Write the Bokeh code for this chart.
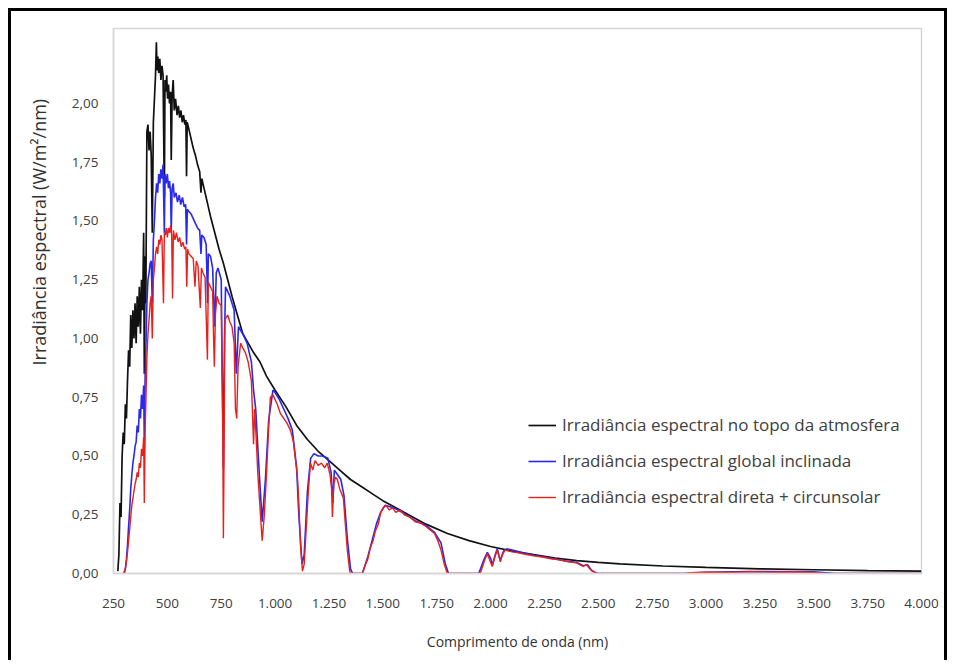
from bokeh.plotting import figure
from bokeh.models import ColumnDataSource, Legend, LegendItem, FixedTicker, Range1d, Title
from bokeh.embed import file_html
from bokeh.resources import INLINE

# ---------------- data ----------------
wl_top = [270, 275, 280, 285, 290, 295, 300, 305, 310, 315, 320, 325, 330, 335, 340, 345, 350, 355, 360, 365,
          370, 375, 380, 385, 390, 393, 397, 400, 405, 410, 415, 420, 425, 430, 435, 440, 445, 449, 452, 456,
          460, 465, 470, 475, 480, 486, 489, 493, 497, 501, 505, 510, 515, 518, 522, 527, 532, 538, 545, 551,
          557, 563, 569, 575, 581, 586, 589, 592, 600, 610, 620, 630, 640, 650, 656, 660, 670, 680, 690, 700,
          720, 740, 760, 780, 800, 825, 850, 875, 900, 930, 960, 1000, 1050, 1100, 1150, 1200, 1250, 1300, 1350, 1400,
          1450, 1500, 1600, 1700, 1800, 1900, 2000, 2100, 2200, 2300, 2400, 2500, 2600, 2800, 3000, 3250, 3500, 3750, 4000]
irr_top = [0.01, 0.08, 0.30, 0.24, 0.50, 0.60, 0.55, 0.72, 0.66, 0.82, 0.95, 0.88, 1.10, 0.96, 1.12, 1.00, 1.15, 0.98, 1.18, 1.05,
           1.22, 1.02, 1.25, 1.12, 1.45, 0.85, 1.35, 1.15, 1.88, 1.91, 1.80, 1.88, 1.78, 1.45, 1.92, 2.02, 2.12, 2.26, 2.14, 2.20,
           2.13, 2.19, 2.10, 2.16, 2.12, 1.60, 2.10, 2.05, 2.12, 2.02, 2.08, 2.00, 2.05, 1.76, 2.03, 2.10, 1.97, 2.02, 1.95, 1.99,
           1.94, 1.97, 1.92, 1.95, 1.91, 1.93, 1.69, 1.92, 1.89, 1.85, 1.81, 1.78, 1.74, 1.71, 1.62, 1.68, 1.64, 1.60, 1.56, 1.52,
           1.45, 1.38, 1.32, 1.25, 1.18, 1.10, 1.02, 0.98, 0.94, 0.90, 0.84, 0.78, 0.71, 0.63, 0.57, 0.52, 0.48, 0.44, 0.40, 0.37,
           0.34, 0.31, 0.26, 0.21, 0.17, 0.14, 0.115, 0.095, 0.08, 0.066, 0.055, 0.047, 0.041, 0.032, 0.026, 0.02, 0.016, 0.012, 0.01]

wl_global = [300, 305, 310, 315, 320, 325, 330, 335, 340, 345, 350, 355, 360, 365, 370, 375, 380, 385, 390, 393,
             397, 400, 405, 410, 415, 420, 425, 430, 435, 440, 445, 450, 455, 460, 465, 470, 475, 480, 486, 489,
             494, 500, 505, 510, 515, 518, 522, 527, 532, 540, 547, 555, 562, 570, 578, 585, 589, 593, 600, 610,
             620, 630, 640, 650, 656, 660, 670, 680, 687, 690, 700, 710, 720, 727, 735, 750, 760, 765, 770, 790,
             810, 820, 830, 850, 870, 890, 900, 910, 925, 940, 955, 970, 990, 1000, 1020, 1040, 1060, 1080, 1100, 1110,
             1125, 1135, 1150, 1165, 1180, 1200, 1220, 1245, 1260, 1268, 1275, 1290, 1305, 1320, 1335, 1350, 1360, 1405, 1430, 1450,
             1470, 1490, 1510, 1530, 1560, 1600, 1650, 1700, 1740, 1770, 1790, 1805, 1945, 1970, 1985, 2000, 2008, 2020, 2031, 2045,
             2060, 2075, 2100, 2150, 2200, 2250, 2300, 2350, 2400, 2430, 2450, 2470, 2495, 2900, 3000, 3200, 3500, 3600, 4000]
irr_global = [0.0, 0.02, 0.06, 0.12, 0.20, 0.27, 0.36, 0.42, 0.47, 0.50, 0.54, 0.56, 0.63, 0.60, 0.70, 0.66, 0.76, 0.70, 0.80, 0.55,
              0.85, 0.95, 1.15, 1.25, 1.28, 1.32, 1.33, 1.15, 1.42, 1.50, 1.60, 1.66, 1.62, 1.70, 1.66, 1.72, 1.68, 1.74, 1.45, 1.70,
              1.66, 1.70, 1.64, 1.67, 1.62, 1.45, 1.64, 1.66, 1.60, 1.62, 1.58, 1.61, 1.57, 1.60, 1.56, 1.57, 1.40, 1.55, 1.54, 1.53,
              1.51, 1.49, 1.47, 1.46, 1.36, 1.44, 1.43, 1.40, 1.15, 1.36, 1.35, 1.30, 1.05, 1.28, 1.30, 1.25, 0.45, 1.00, 1.22, 1.18,
              1.12, 0.85, 1.05, 1.02, 0.98, 0.90, 0.78, 0.70, 0.45, 0.22, 0.40, 0.65, 0.78, 0.77, 0.74, 0.70, 0.66, 0.61, 0.45, 0.25,
              0.04, 0.08, 0.35, 0.49, 0.51, 0.50, 0.50, 0.49, 0.43, 0.30, 0.44, 0.42, 0.40, 0.33, 0.15, 0.02, 0.0, 0.0, 0.07, 0.14,
              0.21, 0.26, 0.29, 0.285, 0.275, 0.255, 0.225, 0.205, 0.175, 0.13, 0.04, 0.0, 0.0, 0.06, 0.09, 0.065, 0.035, 0.075, 0.105, 0.055,
              0.095, 0.105, 0.10, 0.088, 0.078, 0.07, 0.062, 0.053, 0.047, 0.033, 0.037, 0.012, 0.0, 0.0, 0.005, 0.008, 0.007, 0.0, 0.0]

wl_direct = [296, 305, 310, 315, 320, 325, 330, 335, 340, 345, 350, 355, 360, 365, 370, 375, 380, 385, 390, 393,
             397, 400, 405, 410, 415, 420, 425, 430, 435, 440, 445, 450, 455, 460, 465, 470, 475, 482, 486, 490,
             495, 500, 505, 510, 515, 520, 524, 528, 535, 542, 550, 557, 565, 572, 580, 586, 590, 594, 600, 610,
             620, 628, 634, 642, 653, 658, 665, 675, 686, 690, 700, 710, 714, 718, 723, 730, 740, 750, 757, 760,
             763, 767, 780, 790, 800, 810, 816, 822, 828, 840, 850, 862, 875, 890, 900, 905, 912, 920, 930, 940,
             950, 960, 970, 978, 990, 1000, 1010, 1025, 1040, 1055, 1071, 1085, 1095, 1103, 1110, 1118, 1127, 1135, 1145, 1155,
             1164, 1175, 1185, 1200, 1215, 1230, 1242, 1255, 1262, 1266, 1272, 1280, 1289, 1300, 1317, 1325, 1335, 1345, 1349, 1405,
             1420, 1430, 1442, 1455, 1465, 1479, 1490, 1502, 1515, 1530, 1545, 1560, 1580, 1600, 1625, 1650, 1675, 1700, 1720, 1740,
             1755, 1770, 1785, 1799, 1952, 1970, 1985, 1995, 2008, 2020, 2031, 2040, 2045, 2055, 2068, 2085, 2100, 2130, 2160, 2200,
             2240, 2280, 2320, 2360, 2400, 2420, 2430, 2445, 2460, 2475, 2495, 2900, 2950, 3000, 3100, 3200, 3300, 3400, 3500, 3550, 4000]
irr_direct = [0.0, 0.02, 0.05, 0.09, 0.14, 0.19, 0.24, 0.29, 0.32, 0.35, 0.38, 0.40, 0.43, 0.41, 0.47, 0.45, 0.53, 0.50, 0.58, 0.30,
              0.62, 0.72, 0.92, 1.02, 1.08, 1.15, 1.18, 1.00, 1.25, 1.30, 1.36, 1.39, 1.36, 1.42, 1.40, 1.44, 1.42, 1.15, 1.45, 1.44,
              1.47, 1.43, 1.47, 1.45, 1.48, 1.44, 1.17, 1.46, 1.42, 1.45, 1.41, 1.43, 1.39, 1.41, 1.38, 1.39, 1.22, 1.38, 1.36, 1.35,
              1.34, 1.22, 1.33, 1.31, 1.13, 1.30, 1.28, 1.26, 0.91, 1.24, 1.22, 1.20, 1.02, 0.88, 1.10, 1.18, 1.15, 1.14, 0.60, 0.15,
              0.50, 1.08, 1.10, 1.07, 1.05, 0.98, 0.70, 0.66, 0.88, 0.98, 0.96, 0.94, 0.90, 0.82, 0.55, 0.70, 0.58, 0.42, 0.28, 0.14,
              0.25, 0.42, 0.62, 0.75, 0.76, 0.74, 0.72, 0.68, 0.66, 0.64, 0.61, 0.56, 0.48, 0.42, 0.30, 0.12, 0.01, 0.04, 0.20, 0.36,
              0.47, 0.44, 0.48, 0.46, 0.47, 0.45, 0.47, 0.42, 0.36, 0.24, 0.38, 0.41, 0.40, 0.36, 0.32, 0.22, 0.10, 0.02, 0.0, 0.0,
              0.04, 0.06, 0.11, 0.14, 0.18, 0.21, 0.26, 0.28, 0.29, 0.27, 0.28, 0.26, 0.27, 0.25, 0.24, 0.22, 0.215, 0.20, 0.185, 0.17,
              0.14, 0.10, 0.04, 0.0, 0.0, 0.05, 0.085, 0.06, 0.03, 0.07, 0.10, 0.07, 0.05, 0.08, 0.10, 0.095, 0.092, 0.088, 0.082, 0.075,
              0.07, 0.063, 0.058, 0.05, 0.045, 0.035, 0.03, 0.038, 0.02, 0.01, 0.0, 0.0, 0.004, 0.006, 0.005, 0.008, 0.006, 0.007, 0.005, 0.0, 0.0]

series_names = ["Irradiância espectral no topo da atmosfera",
                "Irradiância espectral global inclinada",
                "Irradiância espectral direta + circunsolar"]

x_ticks = [250, 500, 750, 1000, 1250, 1500, 1750, 2000, 2250, 2500, 2750, 3000, 3250, 3500, 3750, 4000]
x_tick_labels = ["250", "500", "750", "1.000", "1.250", "1.500", "1.750", "2.000", "2.250", "2.500",
                 "2.750", "3.000", "3.250", "3.500", "3.750", "4.000"]
y_ticks = [0, 0.25, 0.5, 0.75, 1, 1.25, 1.5, 1.75, 2]
y_tick_labels = ["0,00", "0,25", "0,50", "0,75", "1,00", "1,25", "1,50", "1,75", "2,00"]
y_title = "Irradiância espectral (W/m²/nm)"
x_title = "Comprimento de onda (nm)"

# ---------------- figure ----------------
FONT = "Open Sans"
W, H = 939, 652          # host box incl. the black left/top/right border
OX, OY = 11, 11          # canvas origin on the page (8px offset + 3px border)
p = figure(width=W, height=H, output_backend="svg", toolbar_location=None,
           x_range=Range1d(250, 4000), y_range=Range1d(0, 2.319),
           min_border_left=113 - OX, min_border_top=28 - OY,
           min_border_right=OX + W - 921, min_border_bottom=OY + H - 573,
           background_fill_color="white", border_fill_color="white")
p.styles = {"margin-left": "8px", "margin-top": "8px",
            "border-left": "3px solid black", "border-top": "3px solid black",
            "border-right": "3px solid black"}

p.xgrid.visible = False
p.ygrid.visible = False
p.outline_line_color = "#d6d6d6"
p.outline_line_width = 1.5

def key(t):
    return int(t) if float(t).is_integer() else t

p.xaxis.ticker = FixedTicker(ticks=x_ticks)
p.xaxis.major_label_overrides = {key(t): s for t, s in zip(x_ticks, x_tick_labels)}
p.yaxis.ticker = FixedTicker(ticks=y_ticks)
p.yaxis.major_label_overrides = {key(t): s for t, s in zip(y_ticks, y_tick_labels)}

for ax in (p.xaxis[0], p.yaxis[0]):
    ax.axis_line_color = "#d6d6d6"
    ax.axis_line_width = 1.5
    ax.major_tick_line_color = None
    ax.minor_tick_line_color = None
    ax.major_tick_out = 0
    ax.major_tick_in = 0
    ax.major_label_text_font = FONT
    ax.major_label_text_font_size = "13.5px"
    ax.major_label_text_color = "#404040"
    ax.axis_label_text_font = FONT
    ax.axis_label_text_font_style = "normal"
    ax.axis_label_text_color = "#303030"

p.xaxis.major_label_standoff = 25
p.xaxis.axis_label = x_title
p.xaxis.axis_label_text_font_size = "14px"
p.xaxis.axis_label_standoff = 21
p.yaxis.major_label_standoff = 15

# y-axis title as a side title so it can sit higher, as in the reference
p.add_layout(Title(text=y_title, align="left", offset=208, vertical_align="top",
                   standoff=31, text_font=FONT, text_font_size="18px",
                   text_font_style="normal", text_color="#303030"), "left")

src_top = ColumnDataSource(dict(x=wl_top, y=irr_top))
src_glb = ColumnDataSource(dict(x=wl_global, y=irr_global))
src_dir = ColumnDataSource(dict(x=wl_direct, y=irr_direct))

r_top = p.line("x", "y", source=src_top, line_color="#111111", line_width=1.7)
r_glb = p.line("x", "y", source=src_glb, line_color="#2828ee", line_width=1.6)
r_dir = p.line("x", "y", source=src_dir, line_color="#e8201a", line_width=1.4)

legend = Legend(items=[LegendItem(label=series_names[0], renderers=[r_top]),
                       LegendItem(label=series_names[1], renderers=[r_glb]),
                       LegendItem(label=series_names[2], renderers=[r_dir])],
                location=(415, 65), orientation="vertical",
                border_line_color=None, background_fill_alpha=0,
                padding=0, margin=0, spacing=13,
                glyph_width=28, glyph_height=22, label_height=22, label_standoff=6,
                label_text_font=FONT, label_text_font_size="17px", label_text_color="#404040")
p.add_layout(legend, "center")

open("out.html", "w").write(file_html(p, INLINE))
